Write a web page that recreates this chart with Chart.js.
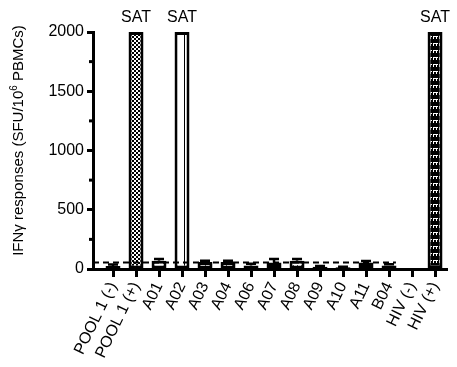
<!DOCTYPE html>
<html>
<head>
<meta charset="utf-8">
<script src="https://cdn.jsdelivr.net/npm/chart.js@4"></script>
<style>
  body { margin: 0; background: #fff; }
</style>
</head>
<body>
<canvas id="Chart" width="457" height="367"></canvas>
<script>
const labels = ["POOL 1 (-)", "POOL 1 (+)", "A01", "A02", "A03", "A04", "A06", "A07", "A08", "A09", "A10", "A11", "B04", "HIV (-)", "HIV (+)"];
const values = [25, 2000, 70, 2000, 60, 60, 30, 55, 70, 20, 15, 55, 30, 5, 2000];
const errors = [12, 0, 15, 0, 10, 10, 15, 30, 15, 5, 5, 12, 10, 0, 0];
const satText = ["", "SAT", "", "SAT", "", "", "", "", "", "", "", "", "", "", "SAT"];
const fillKinds = ["white", "checker", "white", "stripes", "diag", "diag2", "white", "diag", "dots", "white", "white", "horiz", "white", "white", "brick"];
const cutoff = 55;
const cutoffEnd = 12.3;
const yMinor = [250, 750, 1250, 1750];

const FONT = "'Liberation Sans', Arial, sans-serif";
const canvas = document.getElementById("Chart");
const ctx = canvas.getContext("2d");

const makePattern = (w, h, bg, draw) => {
  const c = document.createElement("canvas");
  c.width = w;
  c.height = h;
  const p = c.getContext("2d");
  p.fillStyle = bg;
  p.fillRect(0, 0, w, h);
  draw(p);
  return ctx.createPattern(c, "repeat");
};

const patterns = {
  white: "#fff",
  checker: makePattern(4, 4, "#fff", p => {
    p.fillStyle = "#000";
    p.fillRect(0, 0, 2, 2);
    p.fillRect(2, 2, 2, 2);
  }),
  stripes: makePattern(9, 5, "#fff", p => {
    p.fillStyle = "#000";
    p.fillRect(4, 0, 1, 5);
  }),
  diag: makePattern(6, 6, "#fff", p => {
    p.fillStyle = "#000";
    for (let i = 0; i < 6; i++) p.fillRect(i, i, 1, 1);
  }),
  diag2: makePattern(6, 6, "#fff", p => {
    p.fillStyle = "#000";
    for (let i = 0; i < 6; i++) p.fillRect(5 - i, i, 1, 1);
  }),
  dots: makePattern(4, 4, "#fff", p => {
    p.fillStyle = "#000";
    p.fillRect(1, 1, 1, 1);
  }),
  horiz: makePattern(4, 4, "#fff", p => {
    p.fillStyle = "#000";
    p.fillRect(0, 1, 4, 1);
  }),
  brick: makePattern(6, 7, "#000", p => {
    p.fillStyle = "#fff";
    p.fillRect(1, 1, 5, 1);
    p.fillRect(1, 1, 1, 3);
    p.fillRect(4, 1, 1, 3);
  })
};

// error bars, cutoff line, SAT text, minor ticks and the y title
const extras = {
  id: "extras",
  afterDatasetsDraw(chart) {
    const c = chart.ctx;
    const x = chart.scales.x;
    const y = chart.scales.y;
    c.save();

    c.strokeStyle = "#000";
    c.lineWidth = 2.5;
    values.forEach((v, i) => {
      if (!errors[i]) return;
      const px = x.getPixelForValue(i);
      const top = y.getPixelForValue(v + errors[i]);
      c.beginPath();
      c.moveTo(px, y.getPixelForValue(v));
      c.lineTo(px, top);
      c.moveTo(px - 5, top);
      c.lineTo(px + 5, top);
      c.stroke();
    });

    c.lineWidth = 2;
    c.setLineDash([6, 4]);
    c.beginPath();
    c.moveTo(x.left, y.getPixelForValue(cutoff));
    c.lineTo(x.getPixelForValue(cutoffEnd), y.getPixelForValue(cutoff));
    c.stroke();
    c.setLineDash([]);

    c.lineWidth = 3;
    yMinor.forEach(v => {
      const py = y.getPixelForValue(v);
      c.beginPath();
      c.moveTo(y.right - 4, py);
      c.lineTo(y.right, py);
      c.stroke();
    });

    c.fillStyle = "#000";
    c.font = "16px " + FONT;
    c.textAlign = "center";
    c.textBaseline = "alphabetic";
    satText.forEach((t, i) => {
      if (!t) return;
      c.fillText(t, x.getPixelForValue(i), y.getPixelForValue(values[i]) - 10);
    });

    // rotated axis title with a superscript
    const parts = [["IFNγ responses (SFU/10", 15, 0], ["6", 10, -6], [" PBMCs)", 15, 0]];
    let total = 0;
    parts.forEach(([t, s]) => {
      c.font = s + "px " + FONT;
      total += c.measureText(t).width;
    });
    c.translate(23, (y.top + y.bottom) / 2 - 10);
    c.rotate(-Math.PI / 2);
    c.textAlign = "left";
    let pos = -total / 2;
    parts.forEach(([t, s, dy]) => {
      c.font = s + "px " + FONT;
      c.fillText(t, pos, dy);
      pos += c.measureText(t).width;
    });
    c.restore();
  }
};

const chart = new Chart(ctx, {
  type: "bar",
  data: {
    datasets: [
      {
        data: values.map((v, i) => ({ x: i, y: v })),
        backgroundColor: fillKinds.map(k => patterns[k]),
        borderColor: "#000",
        borderWidth: 3,
        borderSkipped: false,
        barPercentage: 0.65,
        categoryPercentage: 1
      }
    ]
  },
  options: {
    responsive: false,
    animation: false,
    events: [],
    layout: { padding: { top: 32, right: 10, left: 0, bottom: 0 } },
    plugins: { legend: { display: false }, tooltip: { enabled: false } },
    scales: {
      x: {
        type: "linear",
        offset: false,
        min: -0.87,
        max: 14.52,
        border: { color: "#000", width: 3 },
        grid: { offset: false, drawOnChartArea: false, tickLength: 8, tickWidth: 3, tickColor: "#000" },
        ticks: {
          stepSize: 1,
          includeBounds: false,
          autoSkip: false,
          minRotation: 64,
          maxRotation: 64,
          padding: 2,
          color: "#000",
          font: { family: FONT, size: 16 },
          callback: v => labels[v] ?? ""
        },
        afterFit: scale => { scale.height = 98; }
      },
      y: {
        min: 0,
        max: 2000,
        border: { color: "#000", width: 3 },
        grid: { drawOnChartArea: false, tickLength: 6, tickWidth: 3, tickColor: "#000" },
        ticks: {
          stepSize: 500,
          padding: 3,
          color: "#000",
          font: { family: FONT, size: 16 },
          callback: v => String(v)
        },
        afterFit: scale => { scale.width = 93; }
      }
    }
  },
  plugins: [extras]
});
</script>
</body>
</html>
